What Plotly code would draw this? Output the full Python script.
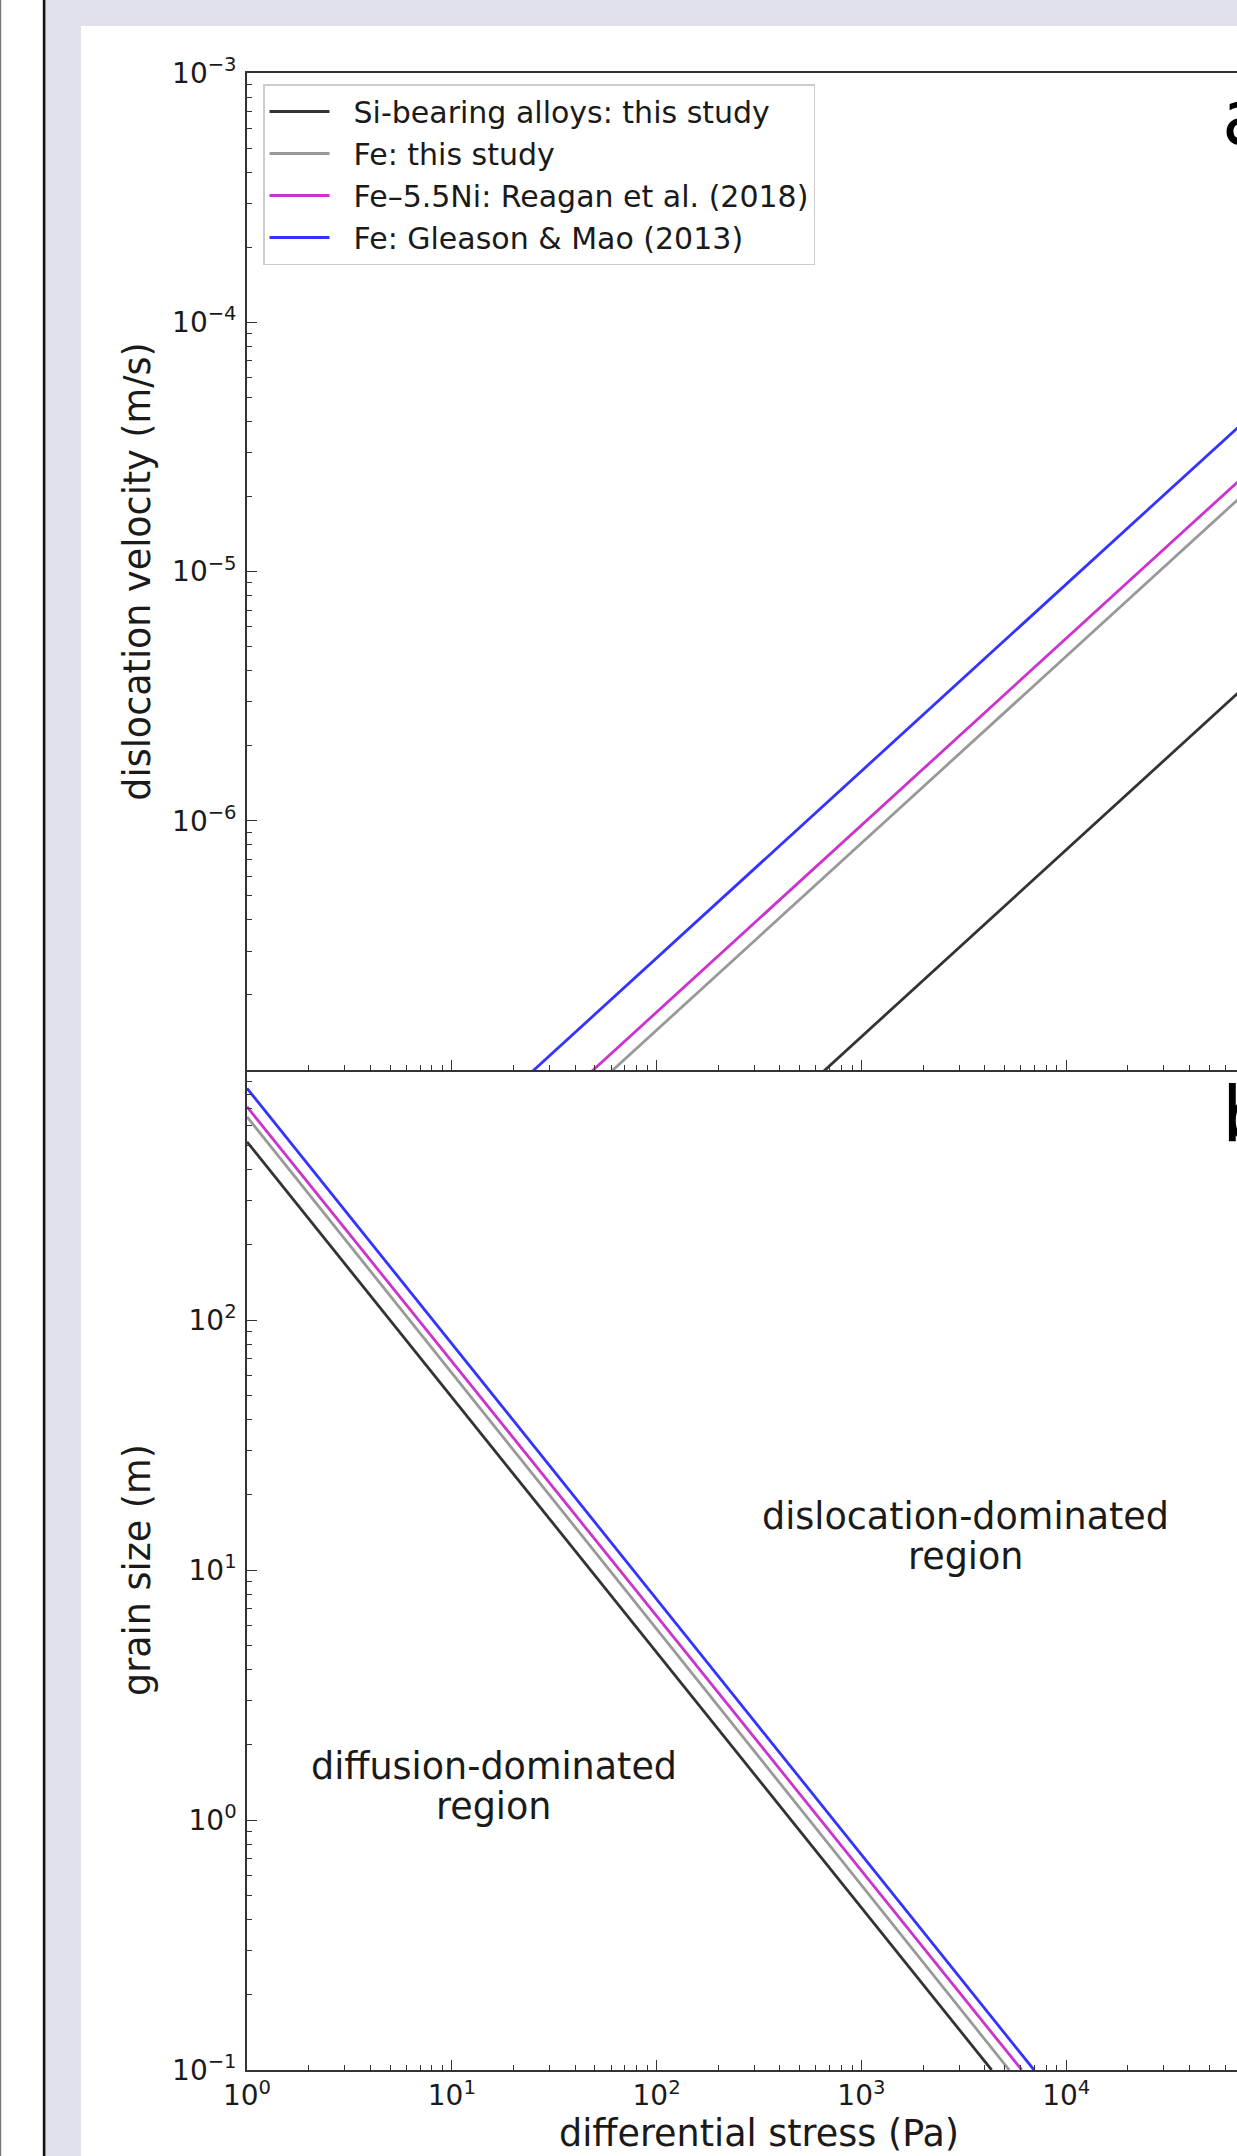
import plotly.graph_objects as go

# ---------------- data ----------------
series_names = ["Si-bearing alloys: this study", "Fe: this study",
                "Fe\u20135.5Ni: Reagan et al. (2018)", "Fe: Gleason & Mao (2013)"]
series_colors = ["#333333", "#999999", "#cc33cc", "#3333ff"]

# panel a: dislocation velocity (m/s) vs differential stress (Pa)
stress_a = [1.0, 1.0e5]
vel_si = [7.64e-10, 4.30e-6]
vel_fe = [4.57e-9, 2.57e-5]
vel_feni = [5.40e-9, 3.03e-5]
vel_gm = [8.90e-9, 5.00e-5]

# panel b: grain size (m) vs differential stress (Pa)
stress_b_si = [1.0, 4325.0]
stress_b_fe = [1.0, 5272.0]
stress_b_feni = [1.0, 6067.0]
stress_b_gm = [1.0, 6966.0]
grain_si = [516.0, 0.1]
grain_fe = [650.0, 0.1]
grain_feni = [713.0, 0.1]
grain_gm = [845.0, 0.1]

x_tickvals = [1, 10, 100, 1000, 10000, 100000]
x_ticktext = ["10<sup>0</sup>", "10<sup>1</sup>", "10<sup>2</sup>", "10<sup>3</sup>",
              "10<sup>4</sup>", "10<sup>5</sup>"]
ya_tickvals = [1e-7, 1e-6, 1e-5, 1e-4, 1e-3]
ya_ticktext = ["", "10<sup>\u22126</sup>", "10<sup>\u22125</sup>", "10<sup>\u22124</sup>", "10<sup>\u22123</sup>"]
yb_tickvals = [1e-1, 1e0, 1e1, 1e2, 1e3]
yb_ticktext = ["10<sup>\u22121</sup>", "10<sup>0</sup>", "10<sup>1</sup>", "10<sup>2</sup>", ""]

# ---------------- layout geometry (pixels) ----------------
W, H = 1237, 2156
L, R, T, B = 247, 0, 73, 86
PW, PH = W - L - R, H - T - B
SPLIT = 1070  # pixel row shared by both panels
FONT = "DejaVu Sans"
AX = "#333333"
TXT = "#1a1a1a"
LW = 2.8


def px(x):
    return (x - L) / PW


def py(y):
    return (H - B - y) / PH


split_frac = py(SPLIT)


def minor_vals(lo, hi):
    out = []
    e = lo
    while e < hi:
        for k in range(2, 10):
            out.append(k * 10.0 ** e)
        e += 1
    return out


fig = go.Figure()

a_vals = [vel_si, vel_fe, vel_feni, vel_gm]
for name, col, yv in zip(series_names, series_colors, a_vals):
    fig.add_trace(go.Scatter(x=stress_a, y=yv, mode="lines",
                             name="\u00a0\u00a0" + name,
                             line=dict(color=col, width=LW), xaxis="x", yaxis="y",
                             showlegend=True))

b_x = [stress_b_si, stress_b_fe, stress_b_feni, stress_b_gm]
b_y = [grain_si, grain_fe, grain_feni, grain_gm]
for name, col, xv, yv in zip(series_names, series_colors, b_x, b_y):
    fig.add_trace(go.Scatter(x=xv, y=yv, mode="lines", name=name,
                             line=dict(color=col, width=LW), xaxis="x2", yaxis="y2",
                             showlegend=False))

xrange_log = [0, PW / 204.8]

common_x = dict(type="log", range=xrange_log, showgrid=False, zeroline=False,
                showline=True, linecolor=AX, linewidth=1.6,
                ticks="inside", ticklen=10, tickwidth=1.4, tickcolor=AX,
                tickvals=x_tickvals, ticktext=x_ticktext,
                minor=dict(ticks="inside", ticklen=5, tickwidth=1.1, tickcolor=AX,
                           tickvals=minor_vals(0, 5), showgrid=False),
                tickfont=dict(family=FONT, size=28, color=TXT),
                domain=[0, 1])

common_y = dict(type="log", showgrid=False, zeroline=False,
                showline=True, linecolor=AX, linewidth=1.6, mirror=False,
                ticks="inside", ticklen=10, tickwidth=1.4, tickcolor=AX,
                ticklabelstandoff=3,
                tickfont=dict(family=FONT, size=28, color=TXT))

fig.update_layout(
    width=W, height=H,
    margin=dict(l=L, r=R, t=T, b=B, autoexpand=False),
    paper_bgcolor="#e1e1ec",
    plot_bgcolor="white",
    font=dict(family=FONT, color=TXT),
    xaxis=dict(common_x, anchor="y", mirror=True, showticklabels=False),
    xaxis2=dict(common_x, anchor="y2", matches="x", mirror=False, showticklabels=True),
    yaxis=dict(common_y, anchor="x", domain=[split_frac, 1], range=[-7, -3],
               tickvals=ya_tickvals, ticktext=ya_ticktext,
               minor=dict(ticks="inside", ticklen=5, tickwidth=1.1, tickcolor=AX,
                          tickvals=minor_vals(-7, -3), showgrid=False),
               title=dict(text="dislocation velocity (m/s)",
                          font=dict(family=FONT, size=36.5, color=TXT), standoff=10)),
    yaxis2=dict(common_y, anchor="x2", domain=[0, split_frac], range=[-1, 3],
                tickvals=yb_tickvals, ticktext=yb_ticktext,
                minor=dict(ticks="inside", ticklen=5, tickwidth=1.1, tickcolor=AX,
                           tickvals=minor_vals(-1, 3), showgrid=False),
                title=dict(text="grain size (m)",
                           font=dict(family=FONT, size=36.5, color=TXT), standoff=10)),
    legend=dict(x=px(263), y=py(84), xanchor="left", yanchor="top",
                bgcolor="white", bordercolor="#cccccc", borderwidth=1.5,
                font=dict(family=FONT, size=30, color=TXT),
                itemwidth=60, tracegroupgap=0),
    showlegend=True,
)

# page decorations: white figure area, left strip, dark separator line
fig.add_shape(type="rect", xref="paper", yref="paper", layer="below",
              x0=px(81), x1=px(1300), y0=py(2200), y1=py(26),
              fillcolor="white", line=dict(width=0))
fig.add_shape(type="rect", xref="paper", yref="paper", layer="below",
              x0=px(-5), x1=px(43), y0=py(2200), y1=py(-10),
              fillcolor="white", line=dict(width=0))
fig.add_shape(type="rect", xref="paper", yref="paper", layer="below",
              x0=px(42.8), x1=px(45.4), y0=py(2200), y1=py(-10),
              fillcolor="#111111", line=dict(width=0))
fig.add_shape(type="rect", xref="paper", yref="paper", layer="below",
              x0=px(0), x1=px(1.2), y0=py(2200), y1=py(-10),
              fillcolor="#777777", line=dict(width=0))

ann_font = dict(family=FONT, size=36.5, color=TXT)
fig.add_annotation(text="differential stress (Pa)", xref="paper", yref="paper",
                   x=px(759), y=py(2133), xanchor="center", yanchor="middle",
                   showarrow=False, font=ann_font)
for txt, cx, cy in [("dislocation-dominated", 965, 1517), ("region", 965, 1557),
                    ("diffusion-dominated", 493.5, 1766), ("region", 493.5, 1806)]:
    fig.add_annotation(text=txt, xref="paper", yref="paper", x=px(cx), y=py(cy),
                       xanchor="center", yanchor="middle", showarrow=False, font=ann_font)

for lab, top in [("a", 71), ("b", 1068)]:
    fig.add_annotation(text=lab, xref="paper", yref="paper", x=px(1220), y=py(top),
                       xanchor="left", yanchor="top", showarrow=False,
                       font=dict(family=FONT, size=76, color="#000000"))

fig.write_html("out.html")
